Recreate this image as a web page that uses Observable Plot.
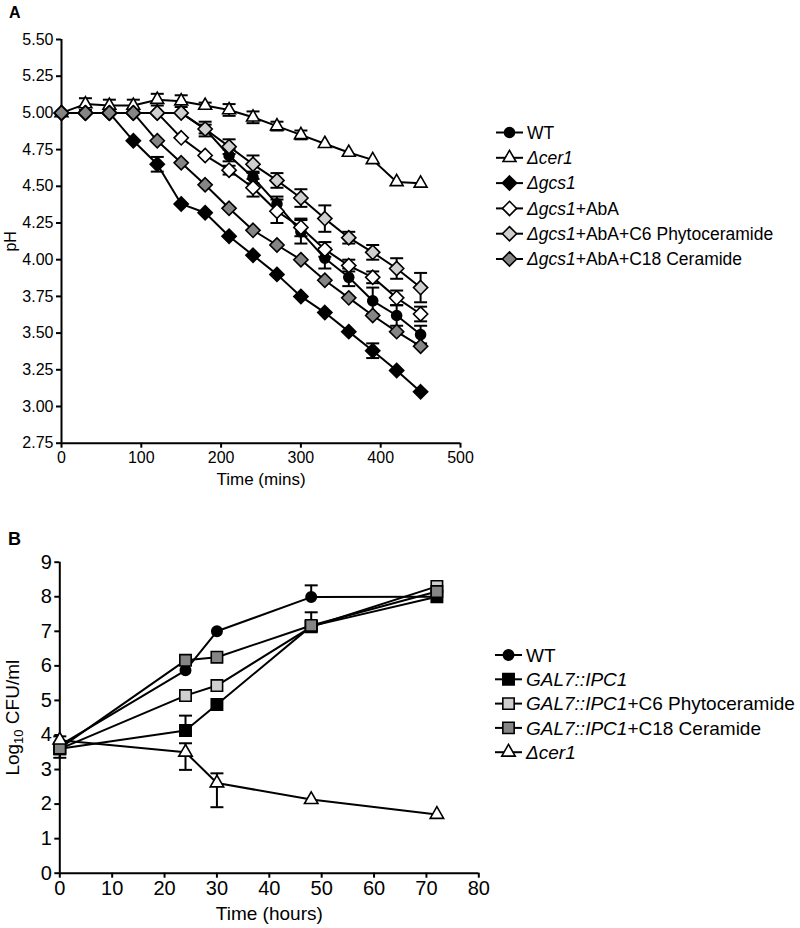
<!DOCTYPE html>
<html><head><meta charset="utf-8">
<script src="https://cdn.jsdelivr.net/npm/d3@7"></script>
<script src="https://cdn.jsdelivr.net/npm/@observablehq/plot@0.6"></script>
<style>
body{margin:0;background:#fff;}
#root{position:relative;width:800px;height:928px;overflow:hidden;background:#fff;font-family:"Liberation Sans",Arial,sans-serif;}
#root > svg, #root > div{position:absolute;}
</style></head><body><div id="root"></div>
<script>
// ---------- Panel A data (pH vs time, mins) ----------
const timesA = [0,30,60,90,120,150,180,210,240,270,300,330,360,390,420,450];
const wtA      = [5.00,5.00,5.00,5.00,5.00,5.00,4.89,4.71,4.56,4.38,4.19,4.01,3.88,3.72,3.62,3.49];
const wtAErr   = [0,0,0,0,0,0,0.03,0.04,0.04,0.05,0.08,0.07,0.06,0.09,0.07,0.06];
const cer1A    = [5.00,5.06,5.05,5.05,5.09,5.08,5.05,5.02,4.97,4.91,4.85,4.79,4.73,4.68,4.53,4.52];
const cer1AErr = [0,0.04,0.04,0.04,0.04,0.04,0.02,0.04,0.04,0.03,0.03,0,0,0,0,0];
const gcs1A    = [5.00,5.00,5.00,4.81,4.65,4.38,4.32,4.16,4.03,3.90,3.75,3.64,3.51,3.38,3.245,3.10];
const gcs1AErr = [0,0,0,0,0.05,0,0,0,0,0,0,0,0,0.05,0,0];
const abaA     = [5.00,5.00,5.00,5.00,5.00,4.83,4.71,4.61,4.49,4.33,4.22,4.07,3.96,3.88,3.74,3.63];
const abaAErr  = [0,0,0,0,0,0,0,0.03,0.06,0.08,0.06,0.05,0.04,0.04,0.05,0.05];
const c6A      = [5.00,5.00,5.00,5.00,5.00,5.00,4.89,4.77,4.65,4.54,4.42,4.28,4.15,4.05,3.94,3.81];
const c6AErr   = [0,0,0,0,0,0,0.05,0.05,0.06,0.05,0.06,0.09,0.04,0.05,0.07,0.10];
const c18A     = [5.00,5.00,5.00,5.00,4.81,4.66,4.51,4.35,4.20,4.10,4.00,3.86,3.74,3.62,3.51,3.41];
const c18AErr  = [0,0,0,0,0,0,0,0,0,0,0,0,0,0,0,0];
const yTicksA = [2.75,3.00,3.25,3.50,3.75,4.00,4.25,4.50,4.75,5.00,5.25,5.50];
const xTicksA = [0,100,200,300,400,500];
const namesA = [
  [["WT",false]],
  [["Δcer1",true]],
  [["Δgcs1",true]],
  [["Δgcs1",true],["+AbA",false]],
  [["Δgcs1",true],["+AbA+C6 Phytoceramide",false]],
  [["Δgcs1",true],["+AbA+C18 Ceramide",false]]
];

// ---------- Panel B data (Log10 CFU/ml vs time, hours) ----------
const timesB = [0,24,30,48,72];
const wtB      = [3.70,5.87,7.00,7.99,8.00];
const wtBLo    = [0,0,0,0,0];
const wtBHi    = [0,0,0,0.34,0];
const galB     = [3.60,4.13,4.88,7.15,8.00];
const galBLo   = [0,0,0,0,0];
const galBHi   = [0,0.43,0,0,0];
const galC6B   = [3.60,5.14,5.43,7.13,8.30];
const galC6BLo = [0,0,0,0,0];
const galC6BHi = [0,0,0,0,0];
const galC18B  = [3.62,6.16,6.25,7.17,8.15];
const galC18BLo= [0.28,0,0,0,0];
const galC18BHi= [0.34,0,0,0.38,0];
const cer1B    = [3.85,3.50,2.61,2.13,1.70];
const cer1BLo  = [0,0.51,0.70,0,0];
const cer1BHi  = [0,0.26,0.28,0,0];
const yTicksB = [0,1,2,3,4,5,6,7,8,9];
const xTicksB = [0,10,20,30,40,50,60,70,80];
const namesB = [
  [["WT",false]],
  [["GAL7::IPC1",true]],
  [["GAL7::IPC1",true],["+C6 Phytoceramide",false]],
  [["GAL7::IPC1",true],["+C18 Ceramide",false]],
  [["Δcer1",true]]
];

const FONT = '"Liberation Sans", Arial, sans-serif';
const LIGHT = "#cfcfcf", MID = "#858585";

const seriesA = [
  {v: wtA,   lo: wtAErr,   hi: wtAErr,   symbol: "circle",   fill: "black", r: 5},
  {v: cer1A, lo: cer1AErr, hi: cer1AErr, symbol: "triangle", fill: "white", r: 4.8},
  {v: gcs1A, lo: gcs1AErr, hi: gcs1AErr, symbol: "diamond2", fill: "black", r: 6.4},
  {v: abaA,  lo: abaAErr,  hi: abaAErr,  symbol: "diamond2", fill: "white", r: 6.4},
  {v: c6A,   lo: c6AErr,   hi: c6AErr,   symbol: "diamond2", fill: LIGHT,   r: 6.4},
  {v: c18A,  lo: c18AErr,  hi: c18AErr,  symbol: "diamond2", fill: MID,     r: 6.4}
];
const seriesB = [
  {v: wtB,     lo: wtBLo,     hi: wtBHi,     symbol: "circle",   fill: "black", r: 5.2},
  {v: galB,    lo: galBLo,    hi: galBHi,    symbol: "square",   fill: "black", r: 6.4},
  {v: galC6B,  lo: galC6BLo,  hi: galC6BHi,  symbol: "square",   fill: LIGHT,   r: 6.4},
  {v: galC18B, lo: galC18BLo, hi: galC18BHi, symbol: "square",   fill: MID,     r: 6.4},
  {v: cer1B,   lo: cer1BLo,   hi: cer1BHi,   symbol: "triangle", fill: "white", r: 5}
];

const capSymbol = {draw(ctx, size){ const w = Math.sqrt(size/Math.PI); ctx.moveTo(-w,0); ctx.lineTo(w,0); }};

function seriesMarks(times, s){
  const rows = times.map((t,i)=>({t, v:s.v[i], lo:s.lo[i], hi:s.hi[i]}));
  const withHi = rows.filter(d=>d.hi>0), withLo = rows.filter(d=>d.lo>0);
  const withErr = rows.filter(d=>d.hi>0||d.lo>0);
  return [
    Plot.line(rows, {x:"t", y:"v", stroke:"black", strokeWidth:2}),
    Plot.ruleX(withErr, {x:"t", y1:d=>d.v-d.lo, y2:d=>d.v+d.hi, stroke:"black", strokeWidth:2}),
    Plot.dot(withHi, {x:"t", y:d=>d.v+d.hi, symbol:capSymbol, r:6.5, fill:"none", stroke:"black", strokeWidth:2}),
    Plot.dot(withLo, {x:"t", y:d=>d.v-d.lo, symbol:capSymbol, r:6.5, fill:"none", stroke:"black", strokeWidth:2}),
    Plot.dot(rows, {x:"t", y:"v", symbol:s.symbol, r:s.r, fill:s.fill, stroke:"black", strokeWidth:1.6})
  ];
}

function setLabelSize(svgEl, text, size){
  let seen = false;
  svgEl.querySelectorAll("text").forEach(t => {
    if (t.textContent === text) {
      if (seen) { t.remove(); return; }
      seen = true;
      t.setAttribute("font-size", size);
      t.setAttribute("font-weight", "normal");
      t.setAttribute("stroke", "none");
    }
  });
}

const root = document.getElementById("root");

// Panel A
const plotA = Plot.plot({
  width: 800, height: 500,
  marginLeft: 61, marginRight: 340, marginTop: 39, marginBottom: 57.3,
  x: {domain: [0,500]},
  y: {domain: [2.75,5.5]},
  style: {fontFamily: FONT, fontSize: "16px", color: "black", background: "transparent", overflow: "visible"},
  marks: [
    Plot.axisY({ticks: yTicksA, tickFormat: d3.format(".2f"), tickSize: 5, tickPadding: 3, strokeWidth: 2, fontSize: 16,
      label: "pH", labelAnchor: "center", labelArrow: "none", labelOffset: 57}),
    Plot.axisX({ticks: xTicksA, tickFormat: d3.format("d"), tickSize: 5, tickPadding: 3, strokeWidth: 2, fontSize: 16,
      label: "Time (mins)", labelAnchor: "center", labelArrow: "none", labelOffset: 42}),
    Plot.ruleX([0], {stroke: "black", strokeWidth: 2}),
    Plot.ruleY([2.75], {stroke: "black", strokeWidth: 2}),
    ...seriesA.flatMap(s => seriesMarks(timesA, s))
  ]
});
plotA.style.left = "0px"; plotA.style.top = "0px";
root.appendChild(plotA);
setLabelSize(plotA, "Time (mins)", 17);

// Panel B
const plotB = Plot.plot({
  width: 800, height: 408,
  marginLeft: 59.3, marginRight: 321.7, marginTop: 41.7, marginBottom: 55.3,
  x: {domain: [0,80]},
  y: {domain: [0,9]},
  style: {fontFamily: FONT, fontSize: "20px", color: "black", background: "transparent", overflow: "visible"},
  marks: [
    Plot.axisY({ticks: yTicksB, tickFormat: d3.format("d"), tickSize: 5, tickPadding: 3, strokeWidth: 2, fontSize: 20,
      label: "Log10 CFU/ml", labelAnchor: "center", labelArrow: "none", labelOffset: 54}),
    Plot.axisX({ticks: xTicksB, tickFormat: d3.format("d"), tickSize: 5, tickPadding: 3, strokeWidth: 2, fontSize: 20,
      label: "Time (hours)", labelAnchor: "center", labelArrow: "none", labelOffset: 47}),
    Plot.ruleX([0], {stroke: "black", strokeWidth: 2}),
    Plot.ruleY([0], {stroke: "black", strokeWidth: 2}),
    ...seriesB.flatMap(s => seriesMarks(timesB, s))
  ]
});
plotB.style.left = "0px"; plotB.style.top = "520px";
root.appendChild(plotB);
setLabelSize(plotB, "Time (hours)", 19);

// Subscript in y label of panel B
plotB.querySelectorAll("text").forEach(t => {
  if (t.textContent === "Log10 CFU/ml") {
    t.textContent = "";
    t.setAttribute("font-size", 19);
    const ns = "http://www.w3.org/2000/svg";
    const a = document.createElementNS(ns, "tspan"); a.textContent = "Log";
    const b = document.createElementNS(ns, "tspan"); b.textContent = "10"; b.setAttribute("font-size", "13px"); b.setAttribute("dy", "4");
    const c = document.createElementNS(ns, "tspan"); c.textContent = " CFU/ml"; c.setAttribute("dy", "-4");
    t.append(a, b, c);
  }
});

// Overlay: panel letters and legends
const svg = d3.select(root).append("svg").attr("width", 800).attr("height", 928).style("left","0px").style("top","0px")
  .style("font-family", FONT);
svg.append("text").attr("x", 9).attr("y", 18).attr("font-size", 16).attr("font-weight", "bold").text("A");
svg.append("text").attr("x", 8).attr("y", 545).attr("font-size", 18).attr("font-weight", "bold").text("B");

function legend(series, names, x0, y0, dy, fontSize){
  const g = svg.append("g");
  series.forEach((s, i) => {
    const y = y0 + i*dy;
    g.append("line").attr("x1", x0).attr("x2", x0+27).attr("y1", y).attr("y2", y).attr("stroke","black").attr("stroke-width",2);
    const size = Math.PI*s.r*s.r;
    const typ = {circle: d3.symbolCircle, triangle: d3.symbolTriangle, diamond2: d3.symbolDiamond2, square: d3.symbolSquare}[s.symbol];
    g.append("path").attr("transform", `translate(${x0+13.5},${y})`).attr("d", d3.symbol(typ, size)())
      .attr("fill", s.fill).attr("stroke","black").attr("stroke-width",1.6);
    const t = g.append("text").attr("x", x0+31).attr("y", y).attr("dy","0.36em").attr("font-size", fontSize);
    names[i].forEach(([txt, it]) => t.append("tspan").attr("font-style", it ? "italic" : "normal").text(txt));
  });
}
legend(seriesA, namesA, 496, 132.5, 25.3, 17.5);
legend(seriesB, namesB, 495, 655, 24.3, 19);
</script>
</body></html>
